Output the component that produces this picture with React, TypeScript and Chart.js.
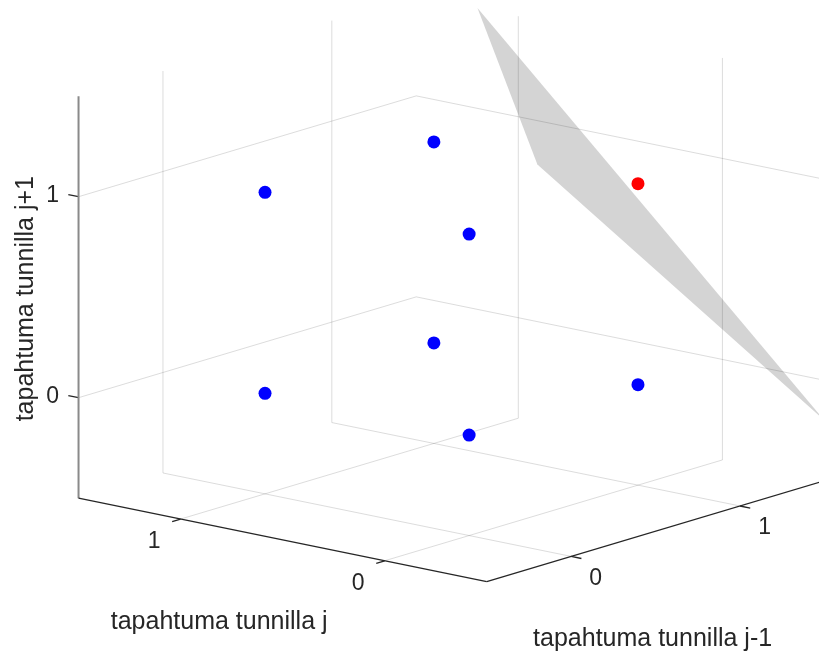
import React, { useEffect, useRef } from "react";
import { Chart, registerables } from "chart.js";

Chart.register(...registerables);

// ---------------- data ----------------
const AXIS_MIN = -0.5;
const AXIS_MAX = 1.5;
const X_TICKS = [0, 1];
const Y_TICKS = [0, 1];
const Z_TICKS = [0, 1];
const X_TICK_LABELS = ["0", "1"];
const Y_TICK_LABELS = ["0", "1"];
const Z_TICK_LABELS = ["0", "1"];

const X_LABEL = "tapahtuma tunnilla j-1";
const Y_LABEL = "tapahtuma tunnilla j";
const Z_LABEL = "tapahtuma tunnilla j+1";

// observations (x = hour j-1, y = hour j, z = hour j+1)
const POINT_X = [0, 1, 0, 1, 0, 1, 0, 1];
const POINT_Y = [0, 0, 1, 1, 0, 0, 1, 1];
const POINT_Z = [0, 0, 0, 0, 1, 1, 1, 1];
const POINT_CLASS = [0, 0, 0, 0, 0, 1, 0, 0];

// separating plane: w1*x + w2*y + w3*z = b
const PLANE_W = [1, -1, 1];
const PLANE_B = 1.8;

// ---------------- view ----------------
const W = 819;
const H = 655;
const AZ_DEG = 50.4;
const EL_DEG = 14.3;
const Z_ASPECT = 0.783;
const PX_PER_UNIT = 264.9;
const CENTER_PX = [451.5, 288.5];

const FONT = '"Liberation Sans", Arial, Helvetica, sans-serif';
const TEXT_COLOR = "#262626";
const GRID_COLOR = "rgba(38,38,38,0.16)";
const AXIS_COLOR = "#262626";
const Z_AXIS_COLOR = "#8a8a8a";
const SURFACE_COLOR = "#d4d4d4";
const CLASS_COLORS = ["#0000ff", "#ff0000"];

const BOX_C = (AXIS_MIN + AXIS_MAX) / 2;

function project(x: number, y: number, z: number) {
  const az = (AZ_DEG * Math.PI) / 180;
  const el = (EL_DEG * Math.PI) / 180;
  const dx = x - BOX_C;
  const dy = y - BOX_C;
  const dz = z - BOX_C;
  const h = dx * Math.cos(az) - dy * Math.sin(az);
  const v =
    Math.sin(el) * (dx * Math.sin(az) + dy * Math.cos(az)) +
    Z_ASPECT * Math.cos(el) * dz;
  return { x: h, y: v };
}

function planeZ(x: number, y: number) {
  return (PLANE_B - PLANE_W[0] * x - PLANE_W[1] * y) / PLANE_W[2];
}

function clipPoly(poly: number[][], keep: (p: number[]) => number) {
  const out: number[][] = [];
  for (let i = 0; i < poly.length; i++) {
    const a = poly[i];
    const b = poly[(i + 1) % poly.length];
    const fa = keep(a);
    const fb = keep(b);
    if (fa >= 0) out.push(a);
    if ((fa >= 0) !== (fb >= 0)) {
      const t = fa / (fa - fb);
      out.push(a.map((v, k) => v + (b[k] - v) * t));
    }
  }
  return out;
}

function surfacePolygon() {
  let poly = [
    [AXIS_MIN, AXIS_MIN],
    [AXIS_MAX, AXIS_MIN],
    [AXIS_MAX, AXIS_MAX],
    [AXIS_MIN, AXIS_MAX],
  ].map(([x, y]) => [x, y, planeZ(x, y)]);
  poly = clipPoly(poly, (p) => AXIS_MAX - p[2]);
  poly = clipPoly(poly, (p) => p[2] - AXIS_MIN);
  return poly;
}

type V3 = [number, number, number];

function seg(a: V3, b: V3, color: string, width: number, order: number) {
  return {
    type: "scatter" as const,
    data: [project(...a), project(...b)],
    showLine: true,
    borderColor: color,
    backgroundColor: color,
    borderWidth: width,
    pointRadius: 0,
    pointHoverRadius: 0,
    fill: false,
    order,
  };
}

function buildDatasets() {
  const lo = AXIS_MIN;
  const hi = AXIS_MAX;
  const tick = 0.05;
  const ds: any[] = [];
  // grid lines
  Z_TICKS.forEach((t) => {
    ds.push(seg([lo, hi, t], [hi, hi, t], GRID_COLOR, 1, 3));
    ds.push(seg([hi, hi, t], [hi, lo, t], GRID_COLOR, 1, 3));
  });
  X_TICKS.forEach((t) => {
    ds.push(seg([t, hi, lo], [t, hi, hi], GRID_COLOR, 1, 3));
    ds.push(seg([t, lo, lo], [t, hi, lo], GRID_COLOR, 1, 3));
  });
  Y_TICKS.forEach((t) => {
    ds.push(seg([hi, t, lo], [hi, t, hi], GRID_COLOR, 1, 3));
    ds.push(seg([lo, t, lo], [hi, t, lo], GRID_COLOR, 1, 3));
  });
  // axes
  ds.push(seg([lo, lo, lo], [lo, hi, lo], AXIS_COLOR, 1.3, 2));
  ds.push(seg([lo, lo, lo], [hi, lo, lo], AXIS_COLOR, 1.3, 2));
  ds.push(seg([lo, hi, lo], [lo, hi, hi], Z_AXIS_COLOR, 2, 2));
  // ticks
  Y_TICKS.forEach((t) => ds.push(seg([lo - tick, t, lo], [lo, t, lo], AXIS_COLOR, 1.3, 2)));
  X_TICKS.forEach((t) => ds.push(seg([t, lo - tick, lo], [t, lo, lo], AXIS_COLOR, 1.3, 2)));
  Z_TICKS.forEach((t) => ds.push(seg([lo, hi + tick, t], [lo, hi, t], AXIS_COLOR, 1.3, 2)));
  // points
  [0, 1].forEach((cls) => {
    const data: { x: number; y: number }[] = [];
    POINT_X.forEach((_, i) => {
      if (POINT_CLASS[i] === cls) data.push(project(POINT_X[i], POINT_Y[i], POINT_Z[i]));
    });
    ds.push({
      type: "scatter",
      data,
      pointRadius: 6.5,
      pointHoverRadius: 6.5,
      backgroundColor: CLASS_COLORS[cls],
      borderColor: CLASS_COLORS[cls],
      borderWidth: 0,
      order: 0,
    });
  });
  return ds;
}

const surfacePlugin = {
  id: "surface3d",
  beforeDatasetsDraw(chart: any) {
    const { ctx } = chart;
    const sx = chart.scales.x;
    const sy = chart.scales.y;
    const poly = surfacePolygon();
    ctx.save();
    ctx.beginPath();
    poly.forEach((p, i) => {
      const q = project(p[0], p[1], p[2]);
      const px = sx.getPixelForValue(q.x);
      const py = sy.getPixelForValue(q.y);
      if (i === 0) ctx.moveTo(px, py);
      else ctx.lineTo(px, py);
    });
    ctx.closePath();
    ctx.fillStyle = SURFACE_COLOR;
    ctx.fill();
    ctx.restore();
  },
};

const textPlugin = {
  id: "text3d",
  afterDatasetsDraw(chart: any) {
    const { ctx } = chart;
    const sx = chart.scales.x;
    const sy = chart.scales.y;
    const pix = (x: number, y: number, z: number) => {
      const q = project(x, y, z);
      return { x: sx.getPixelForValue(q.x), y: sy.getPixelForValue(q.y) };
    };
    const lo = AXIS_MIN;
    const hi = AXIS_MAX;
    ctx.save();
    ctx.fillStyle = TEXT_COLOR;
    ctx.font = `23px ${FONT}`;
    ctx.textAlign = "center";
    ctx.textBaseline = "middle";
    Z_TICKS.forEach((t, i) => {
      const p = pix(lo, hi, t);
      ctx.fillText(Z_TICK_LABELS[i], p.x - 26, p.y - 1);
    });
    Y_TICKS.forEach((t, i) => {
      const p = pix(lo, t, lo);
      ctx.fillText(Y_TICK_LABELS[i], p.x - 26.5, p.y + 23);
    });
    X_TICKS.forEach((t, i) => {
      const p = pix(t, lo, lo);
      ctx.fillText(X_TICK_LABELS[i], p.x + 24.5, p.y + 22);
    });
    ctx.font = `25px ${FONT}`;
    ctx.textBaseline = "alphabetic";
    const ym = pix(lo, BOX_C, lo);
    ctx.fillText(Y_LABEL, ym.x - 63.5, ym.y + 89.5);
    const xm = pix(BOX_C, lo, lo);
    ctx.fillText(X_LABEL, xm.x - 3, xm.y + 115);
    const zm = pix(lo, hi, BOX_C);
    ctx.translate(zm.x - 45.5, zm.y + 1.5);
    ctx.rotate(-Math.PI / 2);
    ctx.fillText(Z_LABEL, 0, 0);
    ctx.restore();
  },
};

export default function App() {
  const ref = useRef<HTMLCanvasElement | null>(null);
  useEffect(() => {
    if (!ref.current) return;
    const S = PX_PER_UNIT;
    const chart = new Chart(ref.current, {
      type: "scatter",
      data: { datasets: buildDatasets() },
      options: {
        animation: false,
        responsive: false,
        events: [],
        layout: { padding: 0, autoPadding: false },
        plugins: { legend: { display: false }, tooltip: { enabled: false } },
        scales: {
          x: {
            type: "linear",
            display: false,
            min: -CENTER_PX[0] / S,
            max: (W - CENTER_PX[0]) / S,
          },
          y: {
            type: "linear",
            display: false,
            min: -(H - CENTER_PX[1]) / S,
            max: CENTER_PX[1] / S,
          },
        },
      },
      plugins: [surfacePlugin, textPlugin],
    });
    return () => chart.destroy();
  }, []);
  return (
    <div style={{ position: "absolute", left: 0, top: 0, width: W, height: H, background: "#fff" }}>
      <canvas ref={ref} width={W} height={H} style={{ display: "block" }} />
    </div>
  );
}
